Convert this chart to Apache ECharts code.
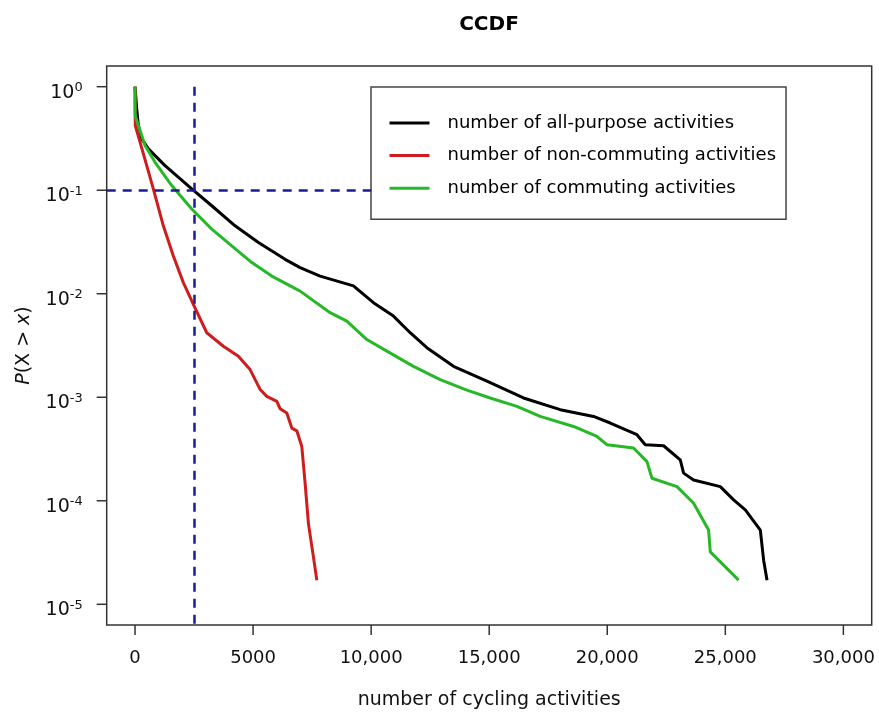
<!DOCTYPE html>
<html>
<head>
<meta charset="utf-8">
<title>CCDF</title>
<script src="https://cdn.jsdelivr.net/npm/echarts@6/dist/echarts.min.js"></script>
<style>
  html, body { margin: 0; padding: 0; background: #fff; }
  #chart { width: 879px; height: 717px; }
</style>
</head>
<body>
<div id="chart"></div>
<script>
// series names (legend order)
var seriesNames = ['number of all-purpose activities', 'number of non-commuting activities', 'number of commuting activities'];

// all-purpose activities: x = number of activities, P(X > x)
var allX = [0, 72, 140, 284, 564, 1271, 2403, 3250, 4237, 5225, 6356, 6992, 7839, 9250, 10097, 10945, 11653, 12360, 13487, 14903, 16453, 18008, 19419, 20127, 21258, 21610, 22386, 23093, 23233, 23657, 24788, 25352, 25847, 26483, 26623, 26767];
var allP = [1, 0.612, 0.422, 0.313, 0.251, 0.173, 0.103, 0.0708, 0.0453, 0.0313, 0.0215, 0.0179, 0.0148, 0.0119, 0.0082, 0.00608, 0.0042, 0.00301, 0.00199, 0.00143, 0.000984, 0.000759, 0.000653, 0.000564, 0.000435, 0.000348, 0.00034, 0.000248, 0.000185, 0.000159, 0.000137, 0.000102, 0.0000815, 0.0000521, 0.0000267, 0.0000171];

// non-commuting activities
var nonX = [0, 10, 212, 496, 775, 1199, 1623, 2047, 2470, 3038, 3742, 4377, 4873, 5297, 5581, 6004, 6144, 6428, 6640, 6852, 7064, 7203, 7343, 7555, 7699];
var nonP = [1, 0.422, 0.291, 0.173, 0.103, 0.0453, 0.0232, 0.0128, 0.00789, 0.0042, 0.00311, 0.00249, 0.00185, 0.00119, 0.00102, 0.000912, 0.000776, 0.000705, 0.000504, 0.000474, 0.000334, 0.000148, 0.0000605, 0.0000287, 0.0000171];

// commuting activities
var comX = [0, 5, 140, 424, 847, 1555, 2403, 3250, 4097, 4945, 5792, 6992, 8263, 8970, 9818, 10665, 11792, 12924, 14055, 15042, 16174, 17161, 18572, 19564, 19987, 21114, 21682, 21894, 22953, 23657, 24292, 24364, 25564];
var comP = [1, 0.527, 0.422, 0.27, 0.186, 0.111, 0.0658, 0.0421, 0.029, 0.02, 0.0148, 0.0106, 0.00656, 0.00543, 0.00361, 0.00279, 0.00199, 0.00148, 0.00117, 0.000984, 0.000817, 0.000653, 0.000522, 0.000418, 0.000348, 0.000323, 0.000239, 0.000165, 0.000137, 0.0000946, 0.0000521, 0.0000321, 0.0000171];

// axis ticks
var xTicks = [0, 5000, 10000, 15000, 20000, 25000, 30000];
var xTickLabels = ['0', '5000', '10,000', '15,000', '20,000', '25,000', '30,000'];
var yTicks = [1e-5, 1e-4, 1e-3, 1e-2, 1e-1, 1];

// reference lines
var refX = 2500;
var refP = 0.1;

var FONT = 'DejaVu Sans';
var TICK_LEN = 10;
var xMin = -1200, xMax = 31200;
var yMin = Math.pow(10, -5.2), yMax = Math.pow(10, 0.2);

function pairs(xs, ys) {
  return xs.map(function (x, i) { return [x, ys[i]]; });
}

var chart = echarts.init(document.getElementById('chart'), null, { renderer: 'canvas' });

var lineSeries = function (name, xs, ys, color) {
  return {
    name: name,
    type: 'line',
    data: pairs(xs, ys),
    symbol: 'none',
    showSymbol: false,
    lineStyle: { color: color, width: 3 },
    itemStyle: { color: color },
    animation: false,
    z: 3
  };
};

var option = {
  backgroundColor: '#fff',
  animation: false,
  title: {
    text: 'CCDF',
    left: 484,
    top: 10,
    textAlign: 'center',
    textStyle: { fontFamily: FONT, fontSize: 20, fontWeight: 'bold', color: '#000' }
  },
  grid: {
    left: 106.7,
    right: 7.3,
    top: 66,
    bottom: 92,
    show: true,
    borderColor: '#333',
    borderWidth: 1.5,
    backgroundColor: 'transparent'
  },
  legend: {
    data: seriesNames,
    orient: 'vertical',
    left: 371,
    top: 87,
    padding: [27, 10, 22, 17],
    itemGap: 14.6,
    itemWidth: 40,
    itemHeight: 20,
    itemStyle: { opacity: 0 },
    lineStyle: { width: 3 },
    backgroundColor: '#fff',
    borderColor: '#444',
    borderWidth: 1.5,
    textStyle: { fontFamily: FONT, fontSize: 18, color: '#000', padding: [0, 0, 0, 13] },
    selectedMode: false
  },
  xAxis: {
    type: 'value',
    position: 'bottom',
    min: xMin,
    max: xMax,
    name: 'number of cycling activities',
    nameLocation: 'middle',
    nameGap: 66,
    nameTextStyle: { fontFamily: FONT, fontSize: 19, color: '#111' },
    axisLine: { show: false, onZero: false },
    splitLine: { show: false },
    axisTick: { show: false },
    axisLabel: {
      customValues: xTicks,
      margin: 24,
      fontFamily: FONT,
      fontSize: 18,
      color: '#111',
      formatter: function (v) {
        var i = xTicks.indexOf(v);
        return i >= 0 ? xTickLabels[i] : '';
      }
    }
  },
  yAxis: {
    type: 'log',
    logBase: 10,
    position: 'left',
    min: yMin,
    max: yMax,
    name: '{i|P}(X > {i|x})',
    nameLocation: 'middle',
    nameGap: 73,
    nameTextStyle: {
      fontFamily: FONT, fontSize: 19, color: '#111',
      rich: { i: { fontFamily: FONT, fontSize: 19, fontStyle: 'italic', color: '#111' } }
    },
    axisLine: { show: false, onZero: false },
    splitLine: { show: false },
    axisTick: { show: false },
    axisLabel: {
      customValues: yTicks,
      margin: 24,
      fontFamily: FONT,
      fontSize: 19,
      color: '#111',
      padding: [12, 0, 0, 0],
      formatter: function (v) {
        var e = Math.round(Math.log10(v));
        return '10{e|' + e + '}';
      },
      rich: {
        e: { fontFamily: FONT, fontSize: 13, color: '#111', verticalAlign: 'top', padding: [0, 0, 10, 0] }
      }
    }
  },
  series: [
    lineSeries(seriesNames[0], allX, allP, '#000000'),
    lineSeries(seriesNames[1], nonX, nonP, '#cf1c1c'),
    lineSeries(seriesNames[2], comX, comP, '#26b826'),
    {
      name: 'ref',
      type: 'line',
      data: [],
      silent: true,
      markLine: {
        symbol: 'none',
        silent: true,
        animation: false,
        label: { show: false },
        lineStyle: { color: '#1c1c96', width: 2.5, type: [9, 7] },
        data: [
          [{ coord: [refX, 1] }, { coord: [refX, yMin] }],
          [{ coord: [xMin, refP] }, { coord: [10000, refP] }]
        ]
      }
    }
  ]
};

chart.setOption(option);

// outward ticks on the box edges, placed through the grid's own scales
var tickMarks = [];
xTicks.forEach(function (v) {
  var p = chart.convertToPixel({ gridIndex: 0 }, [v, yMin]);
  if (p && isFinite(p[0]) && isFinite(p[1])) {
    tickMarks.push({ type: 'line', silent: true, z: 10, shape: { x1: p[0], y1: p[1], x2: p[0], y2: p[1] + TICK_LEN }, style: { stroke: '#333', lineWidth: 1.5 } });
  }
});
yTicks.forEach(function (v) {
  var p = chart.convertToPixel({ gridIndex: 0 }, [xMin, v]);
  if (p && isFinite(p[0]) && isFinite(p[1])) {
    tickMarks.push({ type: 'line', silent: true, z: 10, shape: { x1: p[0] - TICK_LEN, y1: p[1], x2: p[0], y2: p[1] }, style: { stroke: '#333', lineWidth: 1.5 } });
  }
});
chart.setOption({ graphic: { elements: tickMarks } });
</script>
</body>
</html>
